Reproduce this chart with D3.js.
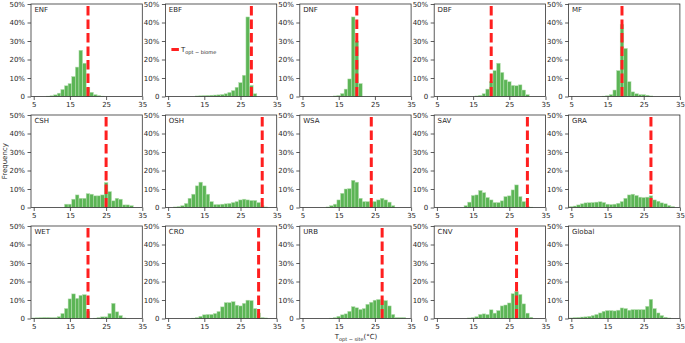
<!DOCTYPE html>
<html lang="en">
<head>
<meta charset="UTF-8">
<title>Topt-site histograms</title>
<style>
    body { margin: 0; background: #fff; }
    svg text { font-family: "DejaVu Sans", sans-serif; fill: #262626; }
</style>
</head>
<body>
<div id="content"></div>

<script src="https://d3js.org/d3.v7.min.js"></script>
<script>

    // bin centres (degC), one bar per degree
    var binCenters = [5, 6, 7, 8, 9, 10, 11, 12, 13, 14, 15, 16, 17, 18, 19,
                      20, 21, 22, 23, 24, 25, 26, 27, 28, 29, 30, 31, 32, 33, 34];

    var biomeNames = ["ENF", "EBF", "DNF", "DBF", "MF",
                      "CSH", "OSH", "WSA", "SAV", "GRA",
                      "WET", "CRO", "URB", "CNV", "Global"];

    // Topt of each biome (red dashed line), none for Global
    var toptBiome = [20, 28, 20, 20, 19, 25, 31, 24, 30, 27, 20, 30, 27, 27, null];

    // frequency in % for each bin
    var enfData = [0, 0, 0, 0, 0.2, 0.4, 0.9, 1.8, 3.8, 5.8, 7, 10.8, 15.9, 25, 18, 5, 2.3, 1, 0.5, 0.2, 0, 0, 0, 0, 0, 0, 0, 0, 0, 0];
    var ebfData = [0, 0, 0, 0, 0, 0, 0, 0, 0.3, 0.4, 0.5, 0.6, 0.7, 0.8, 0.9, 1.1, 1.5, 2.2, 3.2, 5, 7.5, 11.5, 43, 6, 1.5, 0, 0, 0, 0, 0];
    var dnfData = [0, 0, 0, 0, 0, 0, 0, 0, 0, 0.3, 0.5, 1.6, 4, 9.5, 43, 30, 7, 0, 0, 0, 0, 0, 0, 0, 0, 0, 0, 0, 0, 0];
    var dbfData = [0, 0, 0, 0, 0, 0, 0, 0, 0, 0, 0, 0.3, 0.6, 1.5, 4, 8, 14, 18, 13, 9, 8, 6, 5.8, 6.3, 3.5, 1, 0, 0, 0, 0];
    var mfData = [0, 0, 0, 0, 0, 0, 0, 0, 0, 0.2, 0.4, 1, 3.5, 14, 39, 26, 8, 2.5, 1.5, 1, 1, 0.7, 0.3, 0, 0, 0, 0, 0, 0, 0];
    var cshData = [0, 0, 0, 0, 0, 0, 0, 0, 0, 1.8, 1.8, 4.5, 6.8, 5, 5, 7.5, 7.2, 6.3, 6.3, 6.8, 13.5, 8.6, 3.6, 5, 4.5, 1.4, 1.4, 1, 0, 0];
    var oshData = [0, 0, 0.3, 0.5, 1, 2.2, 5, 7.2, 11.7, 13.7, 11.7, 7.2, 3.2, 1.6, 1.6, 1.8, 2, 2.2, 2.7, 3.2, 4.1, 4.5, 4.1, 3.8, 3.8, 2.7, 1, 0.3, 0, 0];
    var wsaData = [0, 0, 0, 0, 0, 0, 0, 0.3, 1, 1.8, 4.1, 7.7, 10, 10.2, 14.7, 13.7, 5, 3.2, 3.2, 3, 3.2, 4.1, 5, 4.1, 2.9, 1, 0, 0, 0, 0];
    var savData = [0, 0, 0, 0, 0, 0, 0, 0, 1, 2.9, 6.5, 6.8, 9.2, 8, 5.4, 4.1, 2.7, 2.7, 3.6, 5.9, 6.3, 9.5, 12.2, 5.9, 3.2, 0.5, 0.2, 0, 0, 0];
    var graData = [0.5, 0.8, 1.4, 2, 2.5, 2.6, 2.7, 2.9, 3.1, 2.7, 1.8, 1.6, 1.8, 2.3, 3.2, 5, 6.8, 7.2, 6.5, 5.6, 5.4, 5.6, 6.3, 4.1, 3.4, 2.5, 2, 1.1, 0.5, 0];
    var wetData = [0.3, 0.4, 0.5, 0.6, 0.6, 0.5, 0.5, 1, 2.7, 5.4, 10.6, 13.3, 10.9, 12.5, 12.9, 4, 0, 0.2, 0.5, 0.9, 0.9, 2.7, 8.2, 3.6, 1.6, 0.3, 0, 0, 0, 0];
    var croData = [0, 0, 0, 0, 0, 0, 0, 0.2, 0.5, 1.2, 2, 2.2, 2.2, 2.7, 3.8, 6.3, 8.6, 8.6, 9.1, 7.2, 6.8, 8.2, 9.9, 9.7, 5.4, 3, 0.5, 0.3, 0, 0];
    var urbData = [0, 0, 0, 0, 0, 0, 0, 0, 0.2, 0.5, 1.2, 2, 2.5, 3.9, 6.4, 5.8, 4.9, 5.4, 7.7, 8.8, 9.9, 10.3, 10, 9.7, 6.8, 2.2, 0.5, 0.5, 0.5, 0];
    var cnvData = [0, 0, 0, 0, 0, 0, 0, 0, 0, 0.3, 0.5, 1, 2.2, 2.5, 2.2, 4.7, 2.9, 4.3, 6.8, 7.3, 8.4, 13.4, 14.5, 13, 7.9, 2.9, 0.7, 0, 0, 0];
    var globalData = [0.3, 0.5, 0.6, 0.8, 0.9, 1.2, 1.6, 2.2, 3, 3.9, 4.3, 4.3, 4.1, 4.5, 5.7, 5.4, 4.5, 4.8, 4.8, 4.8, 4.8, 6.6, 10.4, 5.4, 3, 1.6, 0.7, 0.3, 0, 0];

    var xTicks = [5, 15, 25, 35];
    var yTicks = [0, 10, 20, 30, 40, 50];

    var allData = [enfData, ebfData, dnfData, dbfData, mfData,
                   cshData, oshData, wsaData, savData, graData,
                   wetData, croData, urbData, cnvData, globalData];

    // figure layout
    var width = 685, height = 343;
    var left0 = 31, colStep = 134.4, panelW = 111.3;
    var top0 = 4, rowStep = 111, panelH = 92.5;

    var svg = d3.select("#content")
        .append("svg")
        .attr("width", width)
        .attr("height", height)
        .style("background-color", "#fff");

    var xScale = d3.scaleLinear().domain([4.25, 35]).range([0, panelW]);
    var yScale = d3.scaleLinear().domain([0, 50]).range([panelH, 0]);

    function drawPanel(i) {
        var col = i % 5, row = Math.floor(i / 5);
        var g = svg.append("g")
            .attr("transform", "translate(" + (left0 + col * colStep) + "," + (top0 + row * rowStep) + ")");

        var bins = binCenters.map(function (c, k) { return {c: c, v: allData[i][k]}; })
            .filter(function (d) { return d.v > 0; });

        g.selectAll("rect.bar")
            .data(bins)
            .enter().append("rect")
            .attr("class", "bar")
            .attr("x", function (d) { return xScale(d.c - 0.5); })
            .attr("width", function (d) { return xScale(d.c + 0.5) - xScale(d.c - 0.5); })
            .attr("y", function (d) { return yScale(d.v); })
            .attr("height", function (d) { return yScale(0) - yScale(d.v); })
            .attr("fill", "#5cb556")
            .attr("stroke", "#b9e0b4")
            .attr("stroke-width", 0.5);

        if (toptBiome[i] !== null) {
            g.append("line")
                .attr("x1", xScale(toptBiome[i]))
                .attr("x2", xScale(toptBiome[i]))
                .attr("y1", yScale(0))
                .attr("y2", yScale(50))
                .attr("stroke", "#ff1f1f")
                .attr("stroke-width", 3)
                .attr("stroke-dasharray", "9.5,4");
        }

        // axes
        var yAxis = d3.axisLeft(yScale).tickValues(yTicks)
            .tickFormat(function (d) { return d === 0 ? "0" : d + "%"; })
            .tickSize(3.5).tickPadding(2.5);
        var xAxis = d3.axisBottom(xScale).tickValues(xTicks)
            .tickFormat(d3.format("d"))
            .tickSize(3.5).tickPadding(2);

        var ya = g.append("g").call(yAxis);
        var xa = g.append("g").attr("transform", "translate(0," + panelH + ")").call(xAxis);
        [ya, xa].forEach(function (a) {
            a.select(".domain").remove();
            a.selectAll("line").attr("stroke", "#333").attr("stroke-width", 0.8);
            a.selectAll("text").style("font-size", "7px").attr("fill", "#262626");
        });

        // frame
        g.append("rect")
            .attr("width", panelW)
            .attr("height", panelH)
            .attr("fill", "none")
            .attr("stroke", "#333")
            .attr("stroke-width", 0.8);

        g.append("text")
            .attr("x", 3.4)
            .attr("y", 8.3)
            .style("font-size", "7px")
            .text(biomeNames[i]);

        return g;
    }

    var panels = [];
    for (var i = 0; i < biomeNames.length; i++) {
        panels.push(drawPanel(i));
    }

    // legend inside EBF panel
    var leg = panels[1];
    leg.append("line")
        .attr("x1", 6).attr("x2", 13.5)
        .attr("y1", 45.5).attr("y2", 45.5)
        .attr("stroke", "#ff1f1f")
        .attr("stroke-width", 3);
    var legText = leg.append("text")
        .attr("x", 15.5)
        .attr("y", 48)
        .style("font-size", "7px");
    legText.append("tspan").text("T");
    legText.append("tspan").attr("dy", 1.5).style("font-size", "5px").text("opt \u2212 biome");

    // axis titles
    svg.append("text")
        .attr("transform", "translate(7," + (top0 + rowStep + panelH / 2) + ") rotate(-90)")
        .attr("text-anchor", "middle")
        .style("font-size", "7px")
        .text("Frequency");

    var xl = svg.append("text")
        .attr("x", 356)
        .attr("y", 339)
        .attr("text-anchor", "middle")
        .style("font-size", "7px");
    xl.append("tspan").text("T");
    xl.append("tspan").attr("dy", 1.5).style("font-size", "5px").text("opt \u2212 site");
    xl.append("tspan").attr("dy", -1.5).text("(\u00b0C)");

</script>
</body>
</html>
